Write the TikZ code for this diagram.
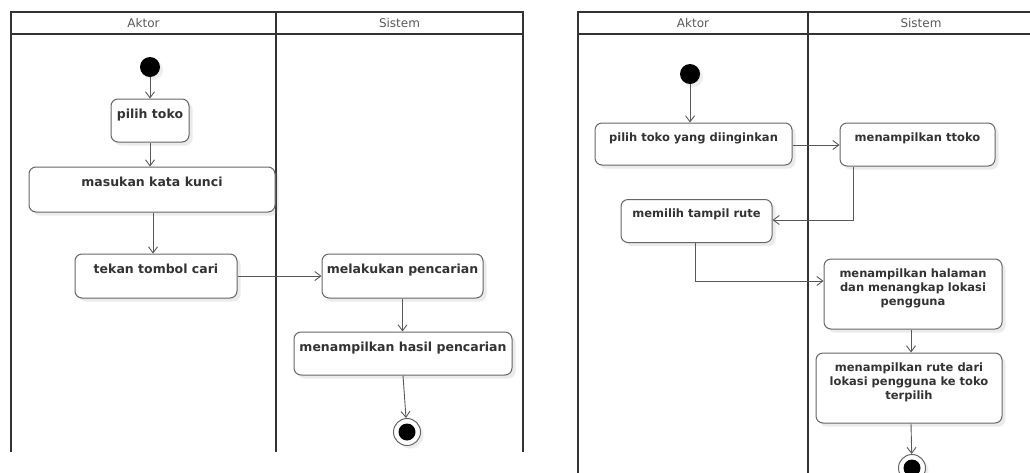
\documentclass[tikz,border=0pt]{standalone}
\usepackage{fontspec}
\setmainfont{DejaVu Sans}
\usetikzlibrary{arrows.meta,shadows}
\begin{document}
\begin{tikzpicture}[x=1pt,y=-1pt,
  lane/.style={line width=1.8pt, draw=black!80},
  act/.style={draw=black!60, line width=1pt, rounded corners=7pt, fill=white,
    inner sep=0pt, drop shadow={shadow xshift=3.5pt, shadow yshift=-3.5pt, opacity=0.16}},
  big/.style={font=\bfseries\fontsize{12.5}{14}\selectfont, text=black!80, inner sep=0pt, anchor=north, align=center},
  small/.style={font=\bfseries\fontsize{11.5}{14}\selectfont, text=black!80, inner sep=0pt, anchor=north, align=center},
  head/.style={font=\fontsize{12}{14}\selectfont, text=black!65, inner sep=0pt},
  flow/.style={draw=black!65, line width=0.9pt, -{Straight Barb[length=6pt,width=9pt]}},
  startnode/.style={circle, fill=black, inner sep=0pt, minimum size=20pt,
    drop shadow={shadow xshift=3pt, shadow yshift=-3pt, opacity=0.14}},
  endnode/.style={circle, draw=black!60, line width=1pt, fill=white, inner sep=0pt, minimum size=27pt,
    drop shadow={shadow xshift=3pt, shadow yshift=-3pt, opacity=0.14},
    path picture={\fill[black] (path picture bounding box.center) circle (8.5pt);}}
]
\useasboundingbox (0,0) rectangle (1030,472);

% ---------- left swimlanes ----------
\draw[lane] (11,452) -- (11,12) -- (523,12) -- (523,452);
\draw[lane] (11,34) -- (523,34);
\draw[lane] (276,12) -- (276,452);
\node[head] (hA1) at (143.5,23) {Aktor};
\node[head] (hS1) at (399.5,23) {Sistem};

% ---------- right swimlanes ----------
\draw[lane] (578,474) -- (578,12) -- (1032,12);
\draw[lane] (578,34) -- (1032,34);
\draw[lane] (808,12) -- (808,474);
\node[head] (hA2) at (693,23) {Aktor};
\node[head] (hS2) at (921,23) {Sistem};

% ---------- left diagram ----------
\node[startnode] (st1) at (150,67) {};
\node[act, minimum width=78pt, minimum height=43pt] (p1) at (150,120.5) {};
\node[big] (tp1) at ([yshift=-10pt]p1.north) {pilih toko};
\node[act, minimum width=246pt, minimum height=45pt] (p2) at (152,189.5) {};
\node[big] (tp2) at ([yshift=-10pt]p2.north) {masukan kata kunci};
\node[act, minimum width=162pt, minimum height=44pt] (p3) at (156,276) {};
\node[big] (tp3) at ([yshift=-10pt]p3.north) {tekan tombol cari};
\node[act, minimum width=161pt, minimum height=44pt] (s1) at (402.5,276) {};
\node[big] (ts1) at ([yshift=-10pt]s1.north) {melakukan pencarian};
\node[act, minimum width=218pt, minimum height=43pt] (s2) at (403,353.5) {};
\node[big] (ts2) at ([yshift=-10pt]s2.north) {menampilkan hasil pencarian};
\node[endnode] (en1) at (407,432) {};

\draw[flow] (st1) -- (p1.north);
\draw[flow] (p1.south) -- (p1.south |- p2.north);
\draw[flow] ([xshift=1pt]p2.south) -- ([xshift=1pt]p2.south |- p3.north);
\draw[flow] (p3.east) -- (s1.west);
\draw[flow] (s1.south) -- (s1.south |- s2.north);
\draw[flow] (s2.south) -- (en1);

% ---------- right diagram ----------
\node[startnode] (st2) at (690,74) {};
\node[act, minimum width=197pt, minimum height=42pt] (q1) at (693.5,144) {};
\node[small] (tq1) at ([yshift=-10pt]q1.north) {pilih toko yang diinginkan};
\node[act, minimum width=155pt, minimum height=43pt] (r1) at (917.5,144.5) {};
\node[small] (tr1) at ([yshift=-10pt]r1.north) {menampilkan ttoko};
\node[act, minimum width=151pt, minimum height=43pt] (q2) at (696.5,221) {};
\node[small] (tq2) at ([yshift=-10pt]q2.north) {memilih tampil rute};
\node[act, minimum width=178pt, minimum height=70pt] (r2) at (913,294) {};
\node[small] (tr2) at ([yshift=-10pt]r2.north) {menampilkan halaman\\dan menangkap lokasi\\pengguna};
\node[act, minimum width=186pt, minimum height=70pt] (r3) at (909,388) {};
\node[small] (tr3) at ([yshift=-10pt]r3.north) {menampilkan rute dari\\lokasi pengguna ke toko\\terpilih};
\node[endnode] (en2) at (912,468) {};

\draw[flow] (st2) -- (st2 |- q1.north);
\draw[flow] ([yshift=-1pt]q1.east) -- ([yshift=-1pt]q1.east -| r1.west);
\draw[flow] ([xshift=-64.5pt]r1.south) |- ([yshift=1pt]q2.east);
\draw[flow] ([xshift=-1.5pt]q2.south) |- ([yshift=13pt]r2.west);
\draw[flow] ([xshift=-2pt]r2.south) -- ([xshift=-2pt]r2.south |- r3.north);
\draw[flow] ([xshift=2pt]r3.south) -- (en2);
\end{tikzpicture}
\end{document}
